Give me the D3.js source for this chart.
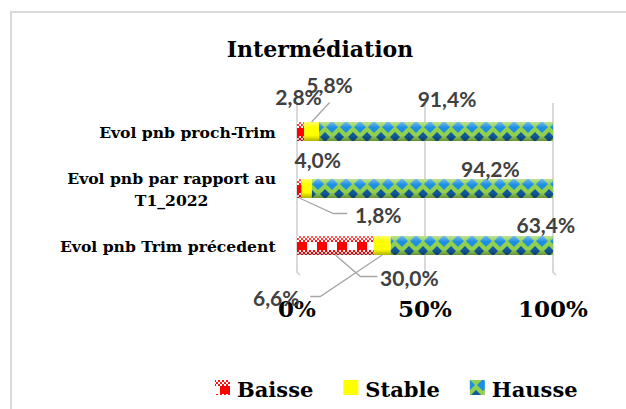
<!DOCTYPE html>
<html>
<head>
<meta charset="utf-8">
<script src="https://cdn.jsdelivr.net/npm/d3@7"></script>
<style>
  body { margin: 0; background: #fff; }
  svg { display: block; }
</style>
</head>
<body>
<div id="chart"></div>
<script>
(function() {
    'use strict';

    // data
    var categories = ["Evol pnb proch-Trim", "Evol pnb par rapport au\nT1_2022", "Evol pnb Trim précedent"];
    var seriesNames = ["Baisse", "Stable", "Hausse"];
    var baisse = [2.8, 1.8, 30.0];
    var stable = [5.8, 4.0, 6.6];
    var hausse = [91.4, 94.2, 63.4];
    var tickValues = [0, 50, 100];

    // where each value label sits, relative to its segment centre (layout only)
    var labelLayout = [
        [{dx: -2, dy: -27}, {dx: 18, dy: -39, leader: "top"}, {dx: 11, dy: -25}],
        [{dx: 79, dy: 34, leader: "bottom", elbow: -45, end: -31}, {dx: 11, dy: -21}, {dx: 58, dy: -12}],
        [{dx: 74, dy: 40, leader: "bottom", elbow: -49, end: -32}, {dx: -106, dy: 60, leader: "bottom", elbow: 44, end: 34}, {dx: 74, dy: -13}]
    ];

    var width = 626,
        height = 409,
        barHeight = 19;

    var serif = "'DejaVu Serif', serif";
    var sans = "Lato, 'Liberation Sans', sans-serif";

    var rows = categories.map(function(c, i) {
        return {category: c, values: [baisse[i], stable[i], hausse[i]]};
    });

    var x = d3.scaleLinear()
        .domain([0, 100])
        .range([297, 553]);

    var y = d3.scalePoint()
        .domain(d3.range(categories.length))
        .range([103, 274])
        .padding(0.5);

    var fmt = function(v) { return d3.format(".1f")(v).replace(".", ",") + "%"; };

    var svg = d3.select("#chart").append("svg")
        .attr("width", width)
        .attr("height", height);

    var defs = svg.append("defs");

    // fine red/white checker used inside the Baisse fill
    var fine = defs.append("pattern")
        .attr("id", "pFine")
        .attr("patternUnits", "userSpaceOnUse")
        .attr("width", 4).attr("height", 4);
    fine.append("rect").attr("width", 4).attr("height", 4).attr("fill", "#ff1010");
    fine.append("rect").attr("width", 2).attr("height", 2).attr("fill", "#fff");
    fine.append("rect").attr("x", 2).attr("y", 2).attr("width", 2).attr("height", 2).attr("fill", "#fff");

    var pb = defs.append("pattern")
        .attr("id", "pBaisse")
        .attr("patternUnits", "userSpaceOnUse")
        .attr("width", 20).attr("height", barHeight);
    pb.append("rect").attr("width", 20).attr("height", barHeight).attr("fill", "url(#pFine)");
    pb.append("rect").attr("y", 6).attr("width", 10).attr("height", 8).attr("fill", "#ff0000");
    pb.append("rect").attr("x", 10).attr("y", 6).attr("width", 10).attr("height", 8).attr("fill", "#fff");

    var ph = defs.append("pattern")
        .attr("id", "pHausse")
        .attr("patternUnits", "userSpaceOnUse")
        .attr("width", 14).attr("height", barHeight);
    ph.append("rect").attr("width", 14).attr("height", barHeight).attr("fill", "#92d050");
    ph.append("polygon").attr("points", "7,-1 13,5 7,11 1,5").attr("fill", "#1d8fe2");
    ph.append("polygon").attr("points", "0,10 5,15 0,20").attr("fill", "#115a9c");
    ph.append("polygon").attr("points", "14,10 9,15 14,20").attr("fill", "#115a9c");

    var shade = defs.append("linearGradient")
        .attr("id", "shade")
        .attr("x1", 0).attr("y1", 0).attr("x2", 0).attr("y2", 1);
    shade.append("stop").attr("offset", "0%").attr("stop-color", "#fff").attr("stop-opacity", 0.4);
    shade.append("stop").attr("offset", "30%").attr("stop-color", "#fff").attr("stop-opacity", 0);
    shade.append("stop").attr("offset", "70%").attr("stop-color", "#000").attr("stop-opacity", 0);
    shade.append("stop").attr("offset", "100%").attr("stop-color", "#000").attr("stop-opacity", 0.3);

    var fills = ["url(#pBaisse)", "#ffff00", "url(#pHausse)"];

    // chart frame
    svg.append("path")
        .attr("d", "M11," + height + "V12H" + width)
        .attr("fill", "none")
        .attr("stroke", "#d9d9d9")
        .attr("stroke-width", 2);

    svg.append("text")
        .attr("x", 320)
        .attr("y", 57)
        .attr("text-anchor", "middle")
        .attr("font-family", serif)
        .attr("font-weight", "bold")
        .style("font-size", "22px")
        .text("Intermédiation");

    // gridlines
    var grid = svg.append("g");
    grid.selectAll("line")
        .data(tickValues)
      .enter().append("line")
        .attr("x1", function(d) { return x(d); })
        .attr("x2", function(d) { return x(d); })
        .attr("y1", 103)
        .attr("y2", 273)
        .attr("stroke", "#d9d9d9")
        .attr("stroke-width", 2);
    grid.selectAll("path")
        .data(tickValues)
      .enter().append("path")
        .attr("d", function(d) { return "M" + x(d) + ",272l3,3"; })
        .attr("fill", "none")
        .attr("stroke", "#d9d9d9")
        .attr("stroke-width", 2);

    svg.append("g").selectAll("text")
        .data(tickValues)
      .enter().append("text")
        .attr("x", function(d) { return x(d); })
        .attr("y", 317)
        .attr("text-anchor", "middle")
        .attr("font-family", serif)
        .attr("font-weight", "bold")
        .style("font-size", "23px")
        .text(function(d) { return d + "%"; });

    // category labels, multi-line ones centred on themselves, block right-aligned
    var cat = svg.append("g").selectAll("text")
        .data(rows)
      .enter().append("text")
        .attr("font-family", serif)
        .attr("font-weight", "bold")
        .attr("text-anchor", "middle")
        .style("font-size", "15.6px");

    cat.each(function(d, i) {
        var lines = d.category.split("\n");
        var t = d3.select(this);
        t.selectAll("tspan")
            .data(lines)
          .enter().append("tspan")
            .attr("x", 0)
            .attr("y", function(l, j) { return y(i) + 6 + (j - (lines.length - 1) / 2) * 22; })
            .text(function(l) { return l; });
        var w = this.getBBox().width;
        t.selectAll("tspan").attr("x", 276 - w / 2);
    });

    // stacked bars
    var bar = svg.append("g").selectAll("g")
        .data(rows)
      .enter().append("g")
        .attr("transform", function(d, i) { return "translate(" + x(0) + "," + (y(i) - barHeight / 2) + ")"; });

    bar.each(function(d) {
        var g = d3.select(this);
        var acc = 0;
        var segs = d.values.map(function(v, k) {
            var s = {k: k, v: v, x0: acc, x1: acc + v};
            acc += v;
            return s;
        });
        g.selectAll("rect.seg")
            .data(segs)
          .enter().append("rect")
            .attr("class", "seg")
            .attr("x", function(s) { return x(s.x0) - x(0); })
            .attr("width", function(s) { return x(s.x1) - x(s.x0); })
            .attr("height", barHeight)
            .attr("fill", function(s) { return fills[s.k]; });
        g.append("rect")
            .attr("width", x(acc) - x(0))
            .attr("height", barHeight)
            .attr("rx", 2)
            .attr("fill", "url(#shade)");
        d.segs = segs;
    });

    // value labels and leader lines
    var lab = svg.append("g");
    rows.forEach(function(d, i) {
        d.segs.forEach(function(s) {
            var lay = labelLayout[i][s.k];
            var cx = (x(s.x0) + x(s.x1)) / 2;
            var lx = cx + lay.dx,
                ly = y(i) + lay.dy;
            if (lay.leader === "top") {
                lab.append("line")
                    .attr("x1", lx).attr("y1", ly + 10)
                    .attr("x2", cx).attr("y2", y(i) - barHeight / 2)
                    .attr("stroke", "#a6a6a6").attr("stroke-width", 1.3);
            } else if (lay.leader === "bottom") {
                lab.append("polyline")
                    .attr("points", [[cx, y(i) + barHeight / 2], [lx + lay.elbow, ly - 9], [lx + lay.end, ly - 9]].join(" "))
                    .attr("fill", "none")
                    .attr("stroke", "#a6a6a6").attr("stroke-width", 1.3);
            }
            lab.append("text")
                .attr("x", lx)
                .attr("y", ly)
                .attr("text-anchor", "middle")
                .attr("font-family", sans)
                .attr("font-weight", "bold")
                .attr("fill", "#404040")
                .style("font-size", "21px")
                .text(fmt(s.v));
        });
    });

    // legend
    var legend = svg.append("g");
    var lx0 = 215;
    seriesNames.forEach(function(name, k) {
        legend.append("rect")
            .attr("x", lx0)
            .attr("y", 380)
            .attr("width", 15)
            .attr("height", 15)
            .attr("fill", fills[k]);
        var t = legend.append("text")
            .attr("x", lx0 + 22)
            .attr("y", 397)
            .attr("font-family", serif)
            .attr("font-weight", "bold")
            .style("font-size", "21px")
            .text(name);
        lx0 += 22 + t.node().getComputedTextLength() + 30;
    });
})();
</script>
</body>
</html>
